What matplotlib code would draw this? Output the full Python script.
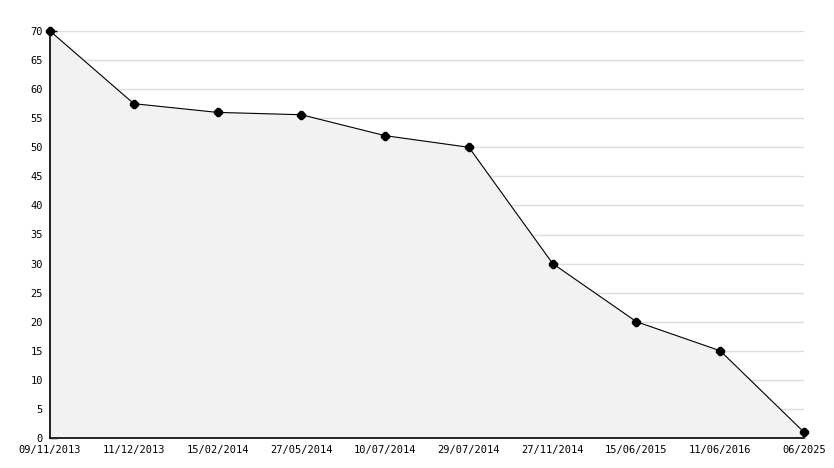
import numpy as np
import matplotlib.pyplot as plt
from matplotlib.ticker import MultipleLocator

plt.rcParams['font.family'] = 'DejaVu Sans Mono'

# values
dates = ["09/11/2013", "11/12/2013", "15/02/2014", "27/05/2014", "10/07/2014",
         "29/07/2014", "27/11/2014", "15/06/2015", "11/06/2016", "06/2025"]
values = [70, 57.5, 56, 55.6, 52, 50, 30, 20, 15, 1]

x = np.arange(len(dates))

fig = plt.figure(figsize=(8.34, 4.68), dpi=100)
ax = fig.add_axes([50 / 834, 1 - 438 / 468, 754 / 834, 407 / 468])

# shaded area under the line
ax.fill_between(x, values, 0, color="#f2f2f2", zorder=1)
ax.plot(x, values, color="black", lw=0.8, marker="8", ms=5.5,
        mec="black", mfc="black", zorder=3, clip_on=False)

ax.set_xlim(0, len(dates) - 1)
ax.set_ylim(0, 70)
ax.set_xticks(x)
ax.set_xticklabels(dates)
ax.yaxis.set_major_locator(MultipleLocator(5))
ax.yaxis.set_minor_locator(MultipleLocator(1))

ax.grid(axis="y", color="#dddddd", lw=1, zorder=0)
ax.set_axisbelow(True)

for s in ["top", "right"]:
    ax.spines[s].set_visible(False)
ax.spines["left"].set_linewidth(1.2)
ax.spines["bottom"].set_linewidth(1.2)

ax.tick_params(axis="y", which="major", direction="in", length=5, width=1,
               labelsize=7.5, pad=5)
ax.tick_params(axis="y", which="minor", direction="in", length=3, width=1)
ax.tick_params(axis="x", which="major", direction="in", length=5, width=1,
               labelsize=7.5, pad=5)

plt.savefig("out.png", dpi=100)
